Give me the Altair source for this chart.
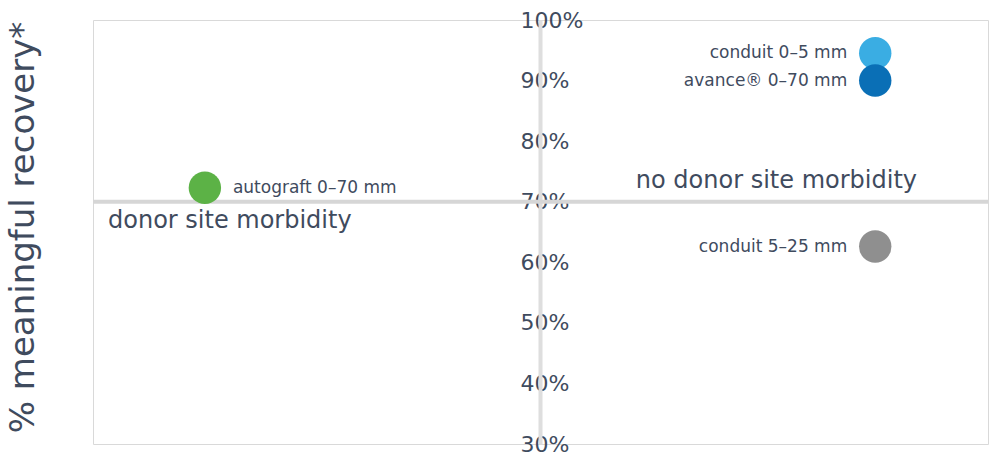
import altair as alt
import pandas as pd

# data
names = ["conduit 0–5 mm", "avance® 0–70 mm", "autograft 0–70 mm", "conduit 5–25 mm"]
donor_pos = [0.874, 0.874, 0.125, 0.874]   # 0 = donor site morbidity side, 1 = none
recovery = [94.5, 90.0, 72.3, 62.6]
side = ["right", "right", "left", "right"]
colors = ["#3aade3", "#0a6fb6", "#5cb246", "#8f8f8f"]

y_ticks = [30, 40, 50, 60, 70, 80, 90, 100]
threshold = [70]
quadrant_text = ["donor site morbidity", "no donor site morbidity"]
quadrant_x = [0, 1]
quadrant_y = [70, 70]

FONT = "DejaVu Sans"
TXT = "#3f4b5e"

pts = pd.DataFrame({"name": names, "x": donor_pos, "y": recovery, "side": side, "color": colors})
quad = pd.DataFrame({"label": quadrant_text, "x": quadrant_x, "y": quadrant_y})
thr = pd.DataFrame({"y": threshold})

xs = alt.Scale(domain=[0, 1], nice=False, zero=False)
ys = alt.Scale(domain=[30, 100], nice=False, zero=False)

yaxis = alt.Axis(
    orient="left", offset=-447, values=y_ticks, labelExpr="datum.value + '%'",
    labelAlign="left", labelBaseline="middle", labelPadding=20, ticks=False, tickSize=0,
    domainColor="#dedede", domainWidth=4, grid=False,
    labelFont=FONT, labelFontSize=22, labelColor=TXT, labelOverlap=False,
    title="% meaningful recovery*", titleX=-517, titleY=207, titleAngle=-90,
    titleAlign="center", titleBaseline="middle", titleFont=FONT, titleFontSize=34,
    titleFontWeight="normal", titleColor=TXT,
)

base_x = alt.X("x:Q", scale=xs, axis=None)

rule = alt.Chart(thr).mark_rule(color="#d6d6d6", strokeWidth=4).encode(
    y=alt.Y("y:Q", scale=ys, axis=yaxis)
)

points = alt.Chart(pts).mark_circle(size=1050, opacity=1).encode(
    x=base_x, y=alt.Y("y:Q", scale=ys),
    color=alt.Color("color:N", scale=None),
)

lab_left = alt.Chart(pts).transform_filter("datum.side == 'left'").mark_text(
    align="left", baseline="middle", dx=28, font=FONT, fontSize=17, color=TXT
).encode(x=base_x, y=alt.Y("y:Q", scale=ys), text="name:N")

lab_right = alt.Chart(pts).transform_filter("datum.side == 'right'").mark_text(
    align="right", baseline="middle", dx=-28, font=FONT, fontSize=17, color=TXT
).encode(x=base_x, y=alt.Y("y:Q", scale=ys), text="name:N")

q_left = alt.Chart(quad).transform_filter("datum.x == 0").mark_text(
    align="left", baseline="middle", dx=15, dy=19, font=FONT, fontSize=24, color=TXT
).encode(x=base_x, y=alt.Y("y:Q", scale=ys), text="label:N")

q_right = alt.Chart(quad).transform_filter("datum.x == 1").mark_text(
    align="right", baseline="middle", dx=-71, dy=-21, font=FONT, fontSize=24, color=TXT
).encode(x=base_x, y=alt.Y("y:Q", scale=ys), text="label:N")

chart = alt.layer(rule, points, lab_left, lab_right, q_left, q_right).properties(
    width=895, height=424,
    autosize=alt.AutoSizeParams(type="none"),
    padding={"left": 93, "top": 20, "right": 5, "bottom": 13},
    background="white",
).configure_view(stroke="#d9d9d9", strokeWidth=1)

chart.save("out.html", embed_options={"renderer": "svg", "actions": False})
